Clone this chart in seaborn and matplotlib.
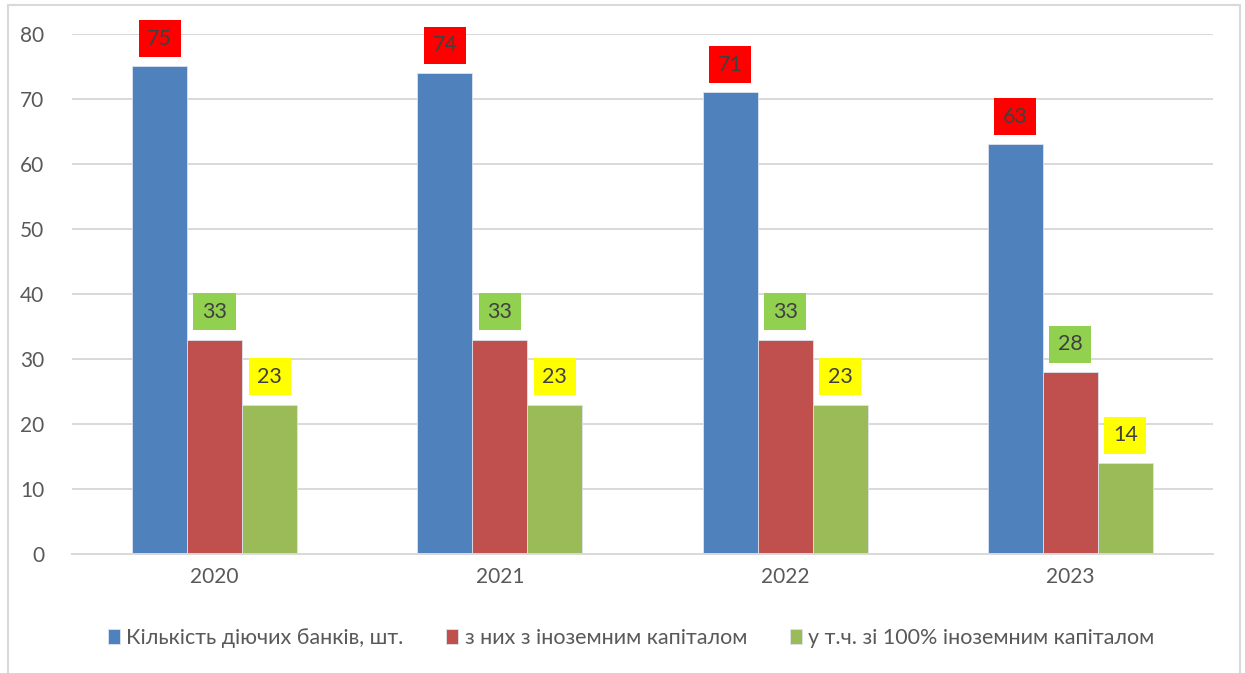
import matplotlib
matplotlib.use("Agg")
import matplotlib.pyplot as plt
from matplotlib.patches import Rectangle
import seaborn as sns
import pandas as pd

years = ["2020", "2021", "2022", "2023"]
series_names = [
    "Кількість діючих банків, шт.",
    "з них з іноземним капіталом",
    "у т.ч. зі 100% іноземним капіталом",
]
banks_total = [75, 74, 71, 63]
banks_foreign = [33, 33, 33, 28]
banks_full_foreign = [23, 23, 23, 14]

bar_colors = ["#4F81BD", "#C0504D", "#9BBB59"]
label_box_colors = ["#FF0000", "#92D050", "#FFFF00"]

rows = []
for name, values in zip(series_names, [banks_total, banks_foreign, banks_full_foreign]):
    for yr, v in zip(years, values):
        rows.append({"Рік": yr, "Показник": name, "Значення": v})
df = pd.DataFrame(rows)

sns.set_style("white")
plt.rcParams["font.family"] = ["Lato", "DejaVu Sans"]

fig = plt.figure(figsize=(12.45, 6.73), dpi=100)
ax = fig.add_axes([0.0578, 0.1768, 0.9165, 0.7727])

sns.barplot(
    data=df, x="Рік", y="Значення", hue="Показник",
    hue_order=series_names, order=years, palette=bar_colors,
    width=0.578, gap=0, saturation=1, edgecolor="#DCE3EE", linewidth=0.6,
    ax=ax, legend=True,
)

ax.set_ylim(0, 80)
ax.set_yticks(range(0, 81, 10))
ax.set_xlim(-0.5, 3.5)
ax.yaxis.grid(True, color="#D9D9D9", linewidth=1.4)
ax.set_axisbelow(True)
for s in ["top", "right", "left"]:
    ax.spines[s].set_visible(False)
ax.spines["bottom"].set_color("#D9D9D9")
ax.spines["bottom"].set_linewidth(1.4)
ax.set_xlabel("")
ax.set_ylabel("")
ax.tick_params(axis="both", length=0, labelsize=15, colors="#595959", pad=9)
ax.tick_params(axis="y", pad=20)

for container, box_color in zip(ax.containers, label_box_colors):
    for bar in container:
        h = bar.get_height()
        ax.annotate(
            f"{h:.0f}",
            xy=(bar.get_x() + bar.get_width() / 2, h),
            xytext=(0, 20), textcoords="offset points",
            ha="center", va="center", fontsize=15.5, color="#404040",
            bbox=dict(boxstyle="square,pad=0.4", fc=box_color, ec="none"),
        )

handles, labels = ax.get_legend_handles_labels()
ax.get_legend().remove()
fig.legend(
    handles, labels, loc="center", bbox_to_anchor=(0.507, 0.052), ncol=3,
    frameon=False, fontsize=15.5, labelcolor="#595959",
    handlelength=0.55, handleheight=0.65, handletextpad=0.3, columnspacing=2.0,
)

# chart frame
fig.patches.append(Rectangle((8 / 1245, -0.02), 1232 / 1245, 1 - 5 / 673 + 0.02,
                             transform=fig.transFigure, fill=False,
                             edgecolor="#D9D9D9", linewidth=1.5))

fig.savefig("out.png", dpi=100)
